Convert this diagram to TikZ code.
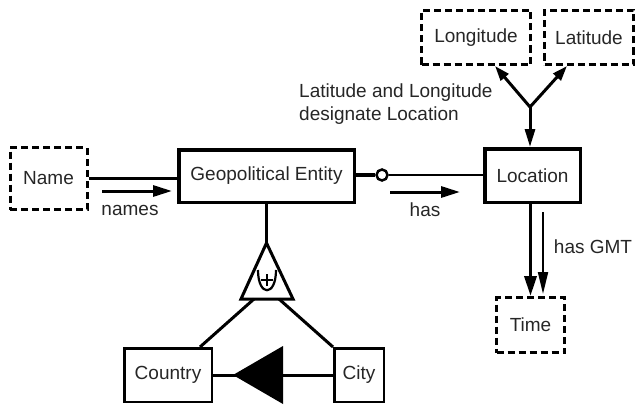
\documentclass[tikz,border=0pt]{standalone}
\usepackage{fontspec}
\setmainfont{Liberation Sans}
\usetikzlibrary{arrows.meta}
\begin{document}
\begin{tikzpicture}[x=1pt,y=-1pt,
  every node/.style={font=\fontsize{19}{23}\selectfont, text=black!85, inner sep=0pt},
  ent/.style={draw, line width=3.5pt},
  weak/.style={draw, line width=2.5pt},
  attr/.style={draw, line width=3pt, dash pattern=on 7pt off 4pt},
  bigarrow/.style={line width=3pt, -{Triangle[length=19pt,width=11pt]}},
  yarrow/.style={line width=3pt, -{Triangle[length=15pt,width=10pt]}},
  thinarrow/.style={line width=2pt, -{Triangle[length=22pt,width=10pt]}}
]
\useasboundingbox (0,0) rectangle (636,404);
% nodes
\node[attr, minimum width=77pt, minimum height=62pt] (name) at (48.5,178.5) {Name};
\node[ent, minimum width=175.5pt, minimum height=52.5pt] (geo) at (266.5,176) {Geopolitical Entity};
\node[ent, minimum width=95.5pt, minimum height=53.5pt] (loc) at (532.5,175.5) {Location};
\node[attr, minimum width=109pt, minimum height=54pt] (lon) at (476,37.5) {Longitude};
\node[attr, minimum width=89pt, minimum height=54pt] (lat) at (589,37.5) {Latitude};
\node[attr, minimum width=68pt, minimum height=55pt] (time) at (530.5,325) {Time};
\node[weak, minimum width=87.5pt, minimum height=53.5pt] (country) at (168,375) {Country};
\node[weak, minimum width=49.5pt, minimum height=53.5pt] (city) at (359,375) {City};
\node[draw, circle, line width=2.5pt, fill=white, minimum size=11pt] (o) at (382,175) {};
% Name -- Geo
\draw[line width=3.5pt] (name.east) -- (name.east -| geo.west);
\coordinate (n1) at (102,191); \coordinate (n2) at (172,191);
\draw[bigarrow] (n1) -- (n2);
\node (namesl) at (130,210) {names};
% Geo -- Location
\draw[line width=3.5pt] (geo.east |- o.west) -- (o.west);
\draw[line width=1.8pt] (o.east) -- (o.east -| loc.west);
\coordinate (h1) at (390,192); \coordinate (h2) at (460,192);
\draw[bigarrow] (h1) -- (h2);
\node (hasl) at (425,210) {has};
% Y junction
\coordinate (j) at (530,107);
\draw[yarrow] (j) -- ([xshift=19pt]lon.south);
\draw[yarrow] (j) -- ([xshift=-22pt]lat.south);
\draw[line width=3pt, -{Triangle[length=18pt,width=10pt]}] (j) -- (j |- loc.north);
\node[anchor=west, align=left] (desig) at (299,104) {Latitude and Longitude\\designate Location};
% Location -- Time
\draw[line width=3.5pt, -{Triangle[length=20pt,width=12pt]}] (time.north |- loc.south) -- (time.north);
\coordinate (g1) at (543,212); \coordinate (g2) at (543,294);
\draw[thinarrow] (g1) -- (g2);
\node (gmtl) at (593,247) {has GMT};
% generalisation triangle
\coordinate (ta) at (266.5,243);
\coordinate (tl) at (241,299);
\coordinate (tr) at (293,299);
\draw[line width=2.5pt] (geo.south) -- (ta);
\draw[line width=3pt, line join=miter] (ta) -- (tl) -- (tr) -- cycle;
\draw[line width=2.2pt] (258,270) .. controls (258,297) and (276,297) .. (276,270);
\draw[line width=2.2pt] (267,274) -- (267,286) (261,280) -- (273,280);
\draw[line width=3pt] (254,299) -- ([xshift=32pt]country.north);
\draw[line width=3pt] (279,299) -- (city.north west);
% City -> Country
\draw[line width=3pt] (city.west) -- (country.east);
\fill (233,375) -- (283,346) -- (283,404) -- cycle;
\end{tikzpicture}
\end{document}
